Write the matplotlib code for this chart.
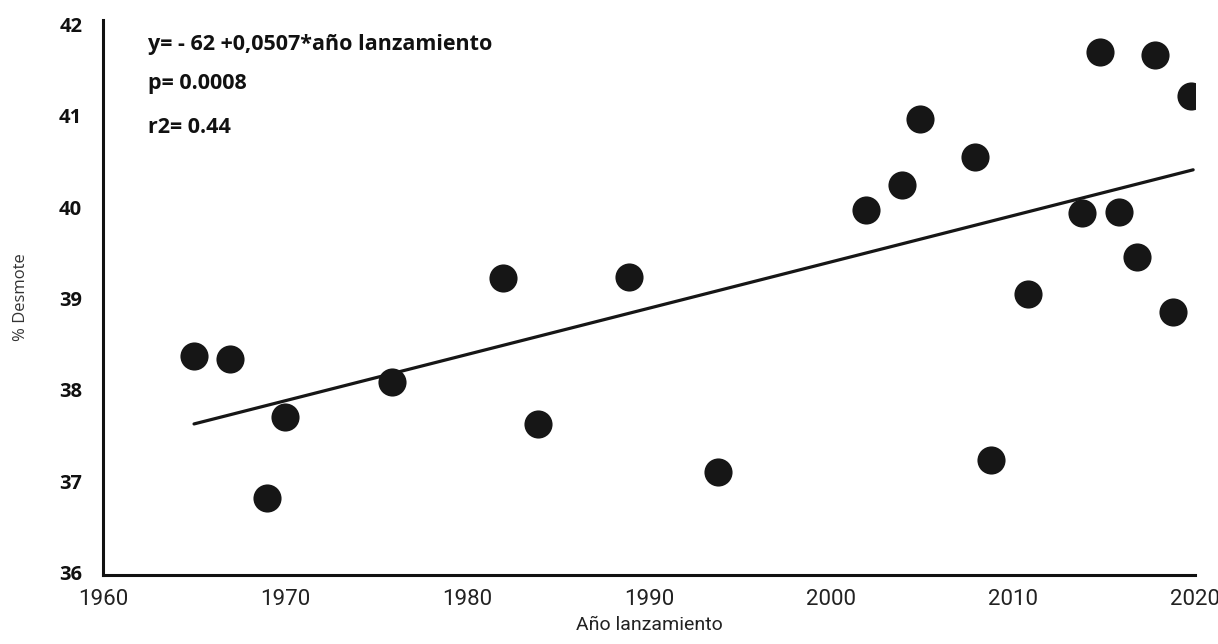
import matplotlib.pyplot as plt
import numpy as np

# datos
anio = [1965.0, 1967.0, 1969.0, 1970.0, 1975.9, 1982.0, 1983.9, 1988.9, 1993.8,
        2001.9, 2003.9, 2004.9, 2007.9, 2008.8, 2010.8, 2013.8, 2015.8, 2014.8,
        2017.8, 2016.8, 2018.8, 2019.8]
desmote = [38.37, 38.34, 36.81, 37.70, 38.09, 39.22, 37.63, 39.23, 37.10,
           39.97, 40.24, 40.97, 40.55, 37.23, 39.05, 39.94, 39.95, 41.70,
           41.67, 39.45, 38.85, 41.22]

# recta de regresion
intercepto = -62
pendiente = 0.0507
x_recta = [1965, 2019.9]

xticks = [1960, 1970, 1980, 1990, 2000, 2010, 2020]
yticks = [36, 37, 38, 39, 40, 41, 42]

plt.rcParams["font.family"] = ["Open Sans", "DejaVu Sans"]
estrecha = ["Liberation Sans Narrow", "Roboto", "DejaVu Sans"]

fig = plt.figure(figsize=(12.18, 6.44), dpi=100)
ax = fig.add_axes([0.0846, 0.107, 0.8965, 0.862])

ax.scatter(anio, desmote, s=410, color="#161616", zorder=3, linewidths=0)
y_recta = [intercepto + pendiente * x for x in x_recta]
ax.plot(x_recta, y_recta, color="#161616", lw=2.3, solid_capstyle="round", zorder=2)

ax.set_xlim(1960, 2020)
ax.set_ylim(35.97, 42.05)
ax.set_xticks(xticks)
ax.set_yticks(yticks)
ax.set_xticklabels([str(t) for t in xticks], fontsize=16, family=estrecha,
                   color="#222222")
ax.set_yticklabels([str(t) for t in yticks], fontsize=14.5, fontweight="bold",
                   color="#111111")
ax.tick_params(axis="both", length=0)
ax.tick_params(axis="y", pad=15)
ax.tick_params(axis="x", pad=10)

for lado in ["top", "right"]:
    ax.spines[lado].set_visible(False)
for lado in ["left", "bottom"]:
    ax.spines[lado].set_linewidth(2.2)
    ax.spines[lado].set_color("#111111")

ax.set_xlabel("Año lanzamiento", fontsize=14, family=estrecha, color="#222222",
              labelpad=4)
ax.set_ylabel("% Desmote", fontsize=12, color="#333333")
ax.yaxis.set_label_coords(-0.068, 0.5)

ax.text(0.041, 0.955, "y= - 62 +0,0507*año lanzamiento", transform=ax.transAxes,
        fontsize=15.5, fontweight="bold", va="center", color="#111111")
ax.text(0.041, 0.885, "p= 0.0008", transform=ax.transAxes,
        fontsize=15.5, fontweight="bold", va="center", color="#111111")
ax.text(0.041, 0.807, "r2= 0.44", transform=ax.transAxes,
        fontsize=15.5, fontweight="bold", va="center", color="#111111")

plt.savefig("out.png", dpi=100)
plt.close()
